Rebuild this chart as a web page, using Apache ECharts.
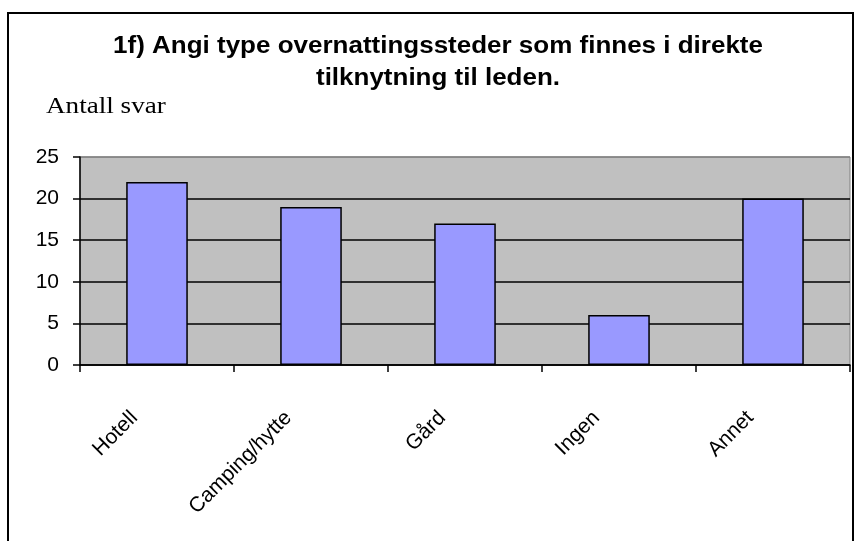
<!DOCTYPE html>
<html>
<head>
<meta charset="utf-8">
<script src="https://cdn.jsdelivr.net/npm/echarts@6/dist/echarts.min.js"></script>
<style>
  html, body { margin: 0; padding: 0; background: #fff; }
  #chart { width: 858px; height: 541px; }
</style>
</head>
<body>
<div id="chart"></div>
<script>
const categories = ['Hotell', 'Camping/hytte', 'Gård', 'Ingen', 'Annet']
const answers = [22, 19, 17, 6, 20]
const yTicks = { min: 0, max: 25, interval: 5 }
const titleLines = ['1f) Angi type overnattingssteder som finnes i direkte', 'tilknytning til leden.']
const yName = 'Antall svar'

const chart = echarts.init(document.getElementById('chart'))

// the original text is drawn a bit wider than normal, so scale it sideways
const wideText = (text, x, y, font, sx, align) => ({
  type: 'text',
  x: x,
  y: y,
  scaleX: sx,
  silent: true,
  style: {
    text: text,
    x: 0,
    y: 0,
    font: font,
    fill: '#000',
    textAlign: align,
    textVerticalAlign: 'middle'
  }
})

chart.setOption({
  backgroundColor: '#fff',
  animation: false,
  graphic: [
    {
      type: 'rect',
      shape: { x: 8, y: 13, width: 845, height: 540 },
      style: { fill: 'none', stroke: '#000', lineWidth: 2 },
      silent: true
    },
    wideText(titleLines[0], 438, 47, 'bold 23px "Liberation Sans", Arial', 1.13, 'center'),
    wideText(titleLines[1], 438, 79, 'bold 23px "Liberation Sans", Arial', 1.13, 'center'),
    wideText(yName, 46, 107, '23px "Liberation Serif", "Times New Roman", serif', 1.18, 'left')
  ],
  grid: {
    left: 80,
    right: 8,
    top: 157,
    bottom: 176,
    show: true,
    backgroundColor: '#C0C0C0',
    borderColor: '#808080',
    borderWidth: 1
  },
  xAxis: {
    type: 'category',
    data: categories,
    axisLine: { lineStyle: { color: '#000', width: 1.5 } },
    axisTick: { show: true, length: 7, lineStyle: { color: '#000', width: 1.5 } },
    axisLabel: {
      interval: 0,
      rotate: 45,
      margin: 27,
      padding: [0, 32, 0, 0],
      color: '#000',
      fontFamily: 'Liberation Sans, Arial',
      fontSize: 21
    }
  },
  yAxis: {
    type: 'value',
    min: yTicks.min,
    max: yTicks.max,
    interval: yTicks.interval,
    axisLine: { show: true, lineStyle: { color: '#000', width: 1.5 } },
    axisTick: { show: true, length: 7, lineStyle: { color: '#000', width: 1.5 } },
    axisLabel: {
      margin: 21,
      color: '#000',
      fontFamily: 'Liberation Sans, Arial',
      fontSize: 21
    },
    splitLine: {
      lineStyle: {
        color: ['#000', '#000', '#000', '#000', '#000', '#808080'],
        width: 1.5
      }
    }
  },
  series: [
    {
      type: 'bar',
      data: answers,
      barWidth: '40%',
      itemStyle: {
        color: '#9999FF',
        borderColor: '#000',
        borderWidth: 1.5
      }
    }
  ]
})
</script>
</body>
</html>
